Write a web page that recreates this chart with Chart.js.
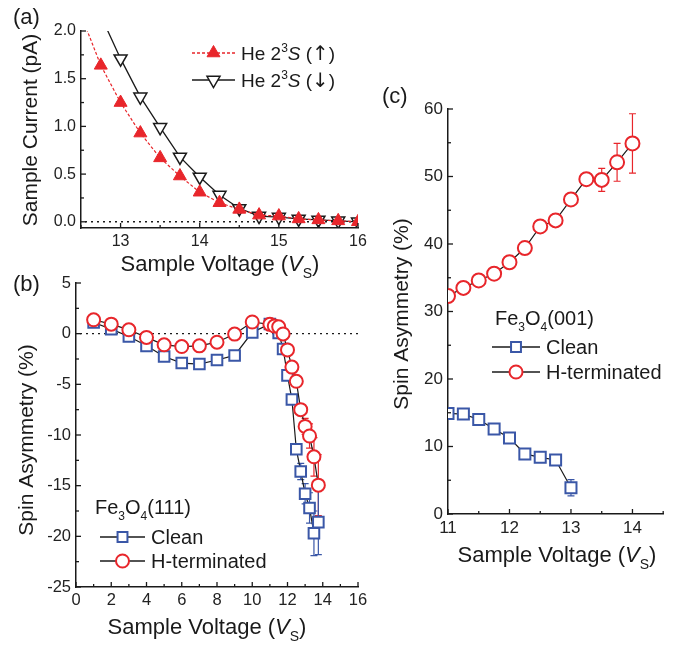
<!DOCTYPE html>
<html>
<head>
<meta charset="utf-8">
<script src="https://cdn.jsdelivr.net/npm/chart.js@4.4.0/dist/chart.umd.min.js"></script>
<style>
  body { margin: 0; background: #fff; }
  #wrap { position: relative; width: 673px; height: 645px; }
  #wrap canvas { position: absolute; left: 0; top: 0; }
</style>
</head>
<body>
<div id="wrap">
  <canvas id="chartA" width="673" height="645"></canvas>
  <canvas id="chartB" width="673" height="645"></canvas>
  <canvas id="chartC" width="673" height="645"></canvas>
</div>
<script>
// ---- (a) sample current, He 2^3S up / down (first point only continues the curve above 2.0 pA)
const voltUp = [12.5, 12.75, 13, 13.25, 13.5, 13.75, 14, 14.25, 14.5, 14.75, 15, 15.25, 15.5, 15.75, 16];
const curUp = [2.17, 1.64, 1.25, 0.93, 0.67, 0.48, 0.31, 0.2, 0.13, 0.07, 0.06, 0.03, 0.02, 0.01, 0.0];
const voltDown = [12.75, 13, 13.25, 13.5, 13.75, 14, 14.25, 14.5, 14.75, 15, 15.25, 15.5, 15.75, 16];
const curDown = [2.16, 1.71, 1.31, 0.99, 0.68, 0.47, 0.28, 0.14, 0.06, 0.05, 0.03, 0.02, 0.01, 0.0];
const ticksAx = [13, 14, 15, 16];
const ticksAy = [0, 0.5, 1, 1.5, 2];

// ---- (b) Fe3O4(111) spin asymmetry
const voltClean111 = [1, 2, 3, 4, 5, 6, 7, 8, 9, 10, 11, 11.5, 11.75, 12, 12.25, 12.5, 12.75, 13, 13.25, 13.5, 13.75];
const clean111 = [1.1, 0.45, -0.28, -1.2, -2.25, -2.9, -3.0, -2.6, -2.15, 0.13, 0.96, 0.07, -1.51, -4.12, -6.5, -11.4, -13.6, -15.8, -17.2, -19.7, -18.6];
const clean111Err = [0, 0, 0, 0, 0, 0, 0, 0, 0, 0, 0, 0, 0, 0, 0.3, 0.5, 0.8, 1.0, 1.5, 2.2, 3.2];
const voltH111 = [1, 2, 3, 4, 5, 6, 7, 8, 9, 10, 11, 11.25, 11.5, 11.75, 12, 12.25, 12.5, 12.75, 13, 13.25, 13.5, 13.75];
const hterm111 = [1.37, 0.94, 0.38, -0.37, -1.1, -1.27, -1.2, -0.84, -0.04, 1.15, 0.92, 0.75, 0.68, -0.03, -1.6, -3.3, -4.7, -7.5, -9.15, -10.1, -12.15, -14.95];
const hterm111Err = [0, 0, 0, 0, 0, 0, 0, 0, 0, 0, 0, 0, 0, 0, 0, 0, 0.3, 0.5, 0.8, 1.2, 1.9, 3.0];
const ticksBx = [0, 2, 4, 6, 8, 10, 12, 14, 16];
const ticksBy = [-25, -20, -15, -10, -5, 0, 5];

// ---- (c) Fe3O4(001) spin asymmetry
const voltH001 = [11, 11.25, 11.5, 11.75, 12, 12.25, 12.5, 12.75, 13, 13.25, 13.5, 13.75, 14];
const hterm001 = [32.3, 33.5, 34.6, 35.6, 37.3, 39.4, 42.6, 43.5, 46.6, 49.6, 49.5, 52.1, 54.9];
const hterm001Err = [0, 0, 0, 0, 0, 0, 0, 0, 0.5, 0.8, 1.7, 2.8, 4.4];
const voltClean001 = [11, 11.25, 11.5, 11.75, 12, 12.25, 12.5, 12.75, 13];
const clean001 = [14.9, 14.8, 14.0, 12.6, 11.25, 8.9, 8.4, 8.0, 3.9];
const clean001Err = [0, 0, 0, 0, 0, 0, 0, 0, 1.2];
const ticksCx = [11, 12, 13, 14];
const ticksCy = [0, 10, 20, 30, 40, 50, 60];

const RED = '#e8262b';
const BLUE = '#3a57a7';
const INK = '#1a1a1a';
const FONT = '"Liberation Sans", Arial, sans-serif';

function pts(xs, ys) {
  return xs.map((x, i) => ({ x: x, y: ys[i] }));
}

// text with italic / sub / sup / symbol pieces: parts = [[text, style], ...]
function richText(ctx, parts, x, y, size, align) {
  const fontOf = p => {
    const small = p[1] === 'sub' || p[1] === 'sup';
    if (p[1] === 'sym') return Math.round(size * 1.05) + 'px "DejaVu Sans", sans-serif';
    const ital = p[1] === 'i' ? 'italic ' : '';
    return ital + Math.round(small ? size * 0.62 : size) + 'px ' + FONT;
  };
  let w = 0;
  parts.forEach(p => { ctx.font = fontOf(p); w += ctx.measureText(p[0]).width; });
  let cx = align === 'center' ? x - w / 2 : x;
  ctx.textAlign = 'left';
  ctx.textBaseline = 'alphabetic';
  parts.forEach(p => {
    ctx.font = fontOf(p);
    let dy = 0;
    if (p[1] === 'sub') dy = size * 0.3;
    if (p[1] === 'sup') dy = -size * 0.42;
    ctx.fillText(p[0], cx, y + dy);
    cx += ctx.measureText(p[0]).width;
  });
}

function yTitle(ctx, parts, x, y, size) {
  ctx.save();
  ctx.translate(x, y);
  ctx.rotate(-Math.PI / 2);
  richText(ctx, parts, 0, 0, size, 'center');
  ctx.restore();
}

function legendRow(ctx, y, x0, x1, lineColor, dash, marker, label, size) {
  ctx.save();
  ctx.strokeStyle = lineColor;
  ctx.lineWidth = 1.3;
  ctx.setLineDash(dash);
  ctx.beginPath();
  ctx.moveTo(x0, y);
  ctx.lineTo(x1, y);
  ctx.stroke();
  ctx.setLineDash([]);
  ctx.fillStyle = marker.fill;
  ctx.strokeStyle = marker.stroke;
  ctx.lineWidth = marker.borderWidth;
  Chart.helpers.drawPoint(ctx, marker, (x0 + x1) / 2, y);
  ctx.fillStyle = INK;
  richText(ctx, label, x1 + 6, y + 7, size, 'left');
  ctx.restore();
}

// inward tick marks, major ones longer, minor ones halfway between
const innerTicks = {
  id: 'innerTicks',
  afterDraw(chart) {
    const ctx = chart.ctx;
    const a = chart.chartArea;
    ctx.save();
    ctx.strokeStyle = INK;
    ctx.lineWidth = 1.3;
    ['x', 'y'].forEach(id => {
      const s = chart.scales[id];
      const majors = s.ticks.map(t => t.value);
      const step = (majors[1] - majors[0]) / 2;
      let v = majors[0] - step * Math.floor((majors[0] - s.min) / step + 1e-9);
      for (; v <= s.max + 1e-9; v += step) {
        const isMajor = majors.some(m => Math.abs(m - v) < 1e-6);
        const len = isMajor ? 5 : 3;
        const p = s.getPixelForValue(v);
        ctx.beginPath();
        if (id === 'x') { ctx.moveTo(p, a.bottom); ctx.lineTo(p, a.bottom - len); }
        else { ctx.moveTo(a.left, p); ctx.lineTo(a.left + len, p); }
        ctx.stroke();
      }
    });
    ctx.restore();
  }
};

// vertical error bars read from dataset.errors
const errorBars = {
  id: 'errorBars',
  beforeDatasetsDraw(chart) {
    const ctx = chart.ctx;
    const a = chart.chartArea;
    ctx.save();
    ctx.beginPath();
    ctx.rect(a.left, a.top, a.right - a.left, a.bottom - a.top);
    ctx.clip();
    chart.data.datasets.forEach(ds => {
      if (!ds.errors) return;
      ctx.strokeStyle = ds.pointBorderColor;
      ctx.lineWidth = 1.2;
      ds.data.forEach((d, i) => {
        const e = ds.errors[i];
        if (!e) return;
        const px = chart.scales.x.getPixelForValue(d.x);
        const top = chart.scales.y.getPixelForValue(d.y + e);
        const bot = chart.scales.y.getPixelForValue(d.y - e);
        ctx.beginPath();
        ctx.moveTo(px, top); ctx.lineTo(px, bot);
        ctx.moveTo(px - 3.5, top); ctx.lineTo(px + 3.5, top);
        ctx.moveTo(px - 3.5, bot); ctx.lineTo(px + 3.5, bot);
        ctx.stroke();
      });
    });
    ctx.restore();
  }
};

function zeroLine(chart) {
  const ctx = chart.ctx;
  const a = chart.chartArea;
  const y0 = chart.scales.y.getPixelForValue(0);
  ctx.save();
  ctx.strokeStyle = INK;
  ctx.lineWidth = 1.4;
  ctx.setLineDash([2, 4]);
  ctx.beginPath();
  ctx.moveTo(a.left + 4, y0);
  ctx.lineTo(a.right, y0);
  ctx.stroke();
  ctx.restore();
}

function axisScale(min, max, majors, fmt, isX, size) {
  return {
    type: 'linear',
    min: min,
    max: max,
    afterBuildTicks: s => { s.ticks = majors.map(v => ({ value: v })); },
    afterFit: s => { if (isX) s.height = 30; else s.width = 50; },
    grid: { display: false, drawTicks: false },
    border: { display: true, color: INK, width: 1.5 },
    ticks: {
      autoSkip: false,
      maxRotation: 0,
      padding: isX ? 4 : 5,
      color: '#222',
      font: { family: FONT, size: size },
      callback: fmt
    }
  };
}

function baseOptions(pad, xs, ys) {
  return {
    responsive: false,
    animation: false,
    devicePixelRatio: 1,
    layout: { padding: pad },
    plugins: { legend: { display: false }, tooltip: { enabled: false } },
    scales: { x: xs, y: ys }
  };
}

const voltTitle = [['Sample Voltage (', ''], ['V', 'i'], ['S', 'sub'], [')', '']];

// ---------------- (a)
new Chart(document.getElementById('chartA'), {
  type: 'scatter',
  data: {
    datasets: [
      {
        data: pts(voltUp, curUp),
        showLine: true,
        borderColor: RED,
        borderWidth: 1.2,
        borderDash: [3, 2],
        pointStyle: 'triangle',
        pointRadius: c => c.dataIndex === 0 ? 0 : 7.5,
        pointBackgroundColor: RED,
        pointBorderColor: RED,
        pointBorderWidth: 1
      },
      {
        data: pts(voltDown, curDown),
        showLine: true,
        borderColor: INK,
        borderWidth: 1.3,
        pointStyle: 'triangle',
        rotation: 180,
        pointRadius: c => c.dataIndex === 0 ? 0 : 7.5,
        pointBackgroundColor: '#fff',
        pointBorderColor: INK,
        pointBorderWidth: 1.5
      }
    ]
  },
  options: baseOptions(
    { left: 31, right: 315, top: 31, bottom: 387 },
    axisScale(12.5, 16, ticksAx, v => String(v), true, 16),
    axisScale(-0.065, 2.0, ticksAy, v => v.toFixed(1), false, 16)
  ),
  plugins: [innerTicks, {
    id: 'decorA',
    beforeDatasetsDraw: zeroLine,
    afterDraw(chart) {
      const ctx = chart.ctx;
      ctx.save();
      ctx.fillStyle = INK;
      richText(ctx, [['(a)', '']], 13, 24, 22, 'left');
      yTitle(ctx, [['Sample Current (pA)', '']], 37, 130, 21);
      richText(ctx, voltTitle, 220, 271, 22, 'center');
      legendRow(ctx, 53, 192, 235, RED, [3, 2],
        { pointStyle: 'triangle', radius: 7.5, rotation: 0, borderWidth: 1, fill: RED, stroke: RED },
        [['He 2', ''], ['3', 'sup'], ['S', 'i'], [' (', ''], ['\u2191', 'sym'], [')', '']], 19);
      legendRow(ctx, 80, 192, 235, INK, [],
        { pointStyle: 'triangle', radius: 7.5, rotation: 180, borderWidth: 1.5, fill: '#fff', stroke: INK },
        [['He 2', ''], ['3', 'sup'], ['S', 'i'], [' (', ''], ['\u2193', 'sym'], [')', '']], 19);
      ctx.restore();
    }
  }]
});

// ---------------- (b)
new Chart(document.getElementById('chartB'), {
  type: 'scatter',
  data: {
    datasets: [
      {
        data: pts(voltH111, hterm111),
        errors: hterm111Err,
        showLine: true,
        borderColor: INK,
        borderWidth: 1.2,
        pointStyle: 'circle',
        pointRadius: 6.5,
        pointBackgroundColor: '#fff',
        pointBorderColor: RED,
        pointBorderWidth: 2
      },
      {
        data: pts(voltClean111, clean111),
        errors: clean111Err,
        showLine: true,
        borderColor: INK,
        borderWidth: 1.2,
        pointStyle: 'rect',
        pointRadius: 7.5,
        pointBackgroundColor: '#fff',
        pointBorderColor: BLUE,
        pointBorderWidth: 2
      }
    ]
  },
  options: baseOptions(
    { left: 26, right: 315, top: 283, bottom: 28 },
    axisScale(0, 16, ticksBx, v => String(v), true, 16.5),
    axisScale(-25, 5, ticksBy, v => String(v), false, 16.5)
  ),
  plugins: [innerTicks, errorBars, {
    id: 'decorB',
    beforeDatasetsDraw: zeroLine,
    afterDraw(chart) {
      const ctx = chart.ctx;
      ctx.save();
      ctx.fillStyle = INK;
      richText(ctx, [['(b)', '']], 13, 291, 22, 'left');
      yTitle(ctx, [['Spin Asymmetry (%)', '']], 33, 440, 20.5);
      richText(ctx, voltTitle, 207, 634, 22, 'center');
      richText(ctx, [['Fe', ''], ['3', 'sub'], ['O', ''], ['4', 'sub'], ['(111)', '']], 95, 514, 19.5, 'left');
      legendRow(ctx, 537, 100, 145, INK, [],
        { pointStyle: 'rect', radius: 7, rotation: 0, borderWidth: 2, fill: '#fff', stroke: BLUE },
        [['Clean', '']], 19.5);
      legendRow(ctx, 561, 100, 145, INK, [],
        { pointStyle: 'circle', radius: 6.5, rotation: 0, borderWidth: 2, fill: '#fff', stroke: RED },
        [['H-terminated', '']], 19.5);
      ctx.restore();
    }
  }]
});

// ---------------- (c)
new Chart(document.getElementById('chartC'), {
  type: 'scatter',
  data: {
    datasets: [
      {
        data: pts(voltH001, hterm001),
        errors: hterm001Err,
        showLine: true,
        borderColor: INK,
        borderWidth: 1.2,
        pointStyle: 'circle',
        pointRadius: 7,
        pointBackgroundColor: '#fff',
        pointBorderColor: RED,
        pointBorderWidth: 2
      },
      {
        data: pts(voltClean001, clean001),
        errors: clean001Err,
        showLine: true,
        borderColor: INK,
        borderWidth: 1.2,
        pointStyle: 'rect',
        pointRadius: 7.8,
        pointBackgroundColor: '#fff',
        pointBorderColor: BLUE,
        pointBorderWidth: 2
      }
    ]
  },
  options: baseOptions(
    { left: 398, right: 6, top: 109, bottom: 101 },
    axisScale(11, 14.5, ticksCx, v => String(v), true, 17),
    axisScale(0, 60, ticksCy, v => String(v), false, 17)
  ),
  plugins: [innerTicks, errorBars, {
    id: 'decorC',
    afterDraw(chart) {
      const ctx = chart.ctx;
      ctx.save();
      ctx.fillStyle = INK;
      richText(ctx, [['(c)', '']], 382, 103, 22, 'left');
      yTitle(ctx, [['Spin Asymmetry (%)', '']], 408, 314, 21);
      richText(ctx, voltTitle, 557, 562, 22, 'center');
      richText(ctx, [['Fe', ''], ['3', 'sub'], ['O', ''], ['4', 'sub'], ['(001)', '']], 495, 325, 19.5, 'left');
      legendRow(ctx, 347, 492, 540, INK, [],
        { pointStyle: 'rect', radius: 7, rotation: 0, borderWidth: 2, fill: '#fff', stroke: BLUE },
        [['Clean', '']], 19.5);
      legendRow(ctx, 372, 492, 540, INK, [],
        { pointStyle: 'circle', radius: 6.5, rotation: 0, borderWidth: 2, fill: '#fff', stroke: RED },
        [['H-terminated', '']], 19.5);
      ctx.restore();
    }
  }]
});
</script>
</body>
</html>
